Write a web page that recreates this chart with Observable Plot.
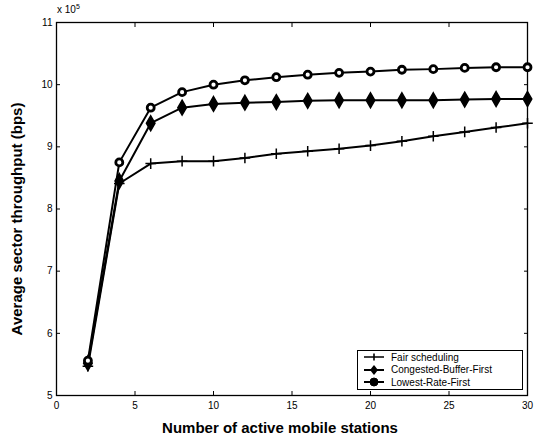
<!DOCTYPE html>
<html><head><meta charset="utf-8">
<script src="https://cdn.jsdelivr.net/npm/d3@7"></script>
<script src="https://cdn.jsdelivr.net/npm/@observablehq/plot@0.6"></script>
<style>
body{margin:0;background:#fff;font-family:"Liberation Sans",Arial,sans-serif}
#wrap{position:relative;width:534px;height:443px}
#exp{position:absolute;left:57px;top:3px;font-size:10px}
#exp sup{font-size:7px}
#legend{position:absolute;left:357px;top:350px;width:166px;height:40px;border:1px solid #000;background:#fff;font-size:10px;box-sizing:border-box}
#legend .row{display:flex;align-items:center;height:12.5px;margin-left:4px}
#legend svg{margin-right:5px}
</style></head><body>
<div id="wrap"><div id="exp">x 10<sup>5</sup></div></div>
<script>
const stations = [2, 4, 6, 8, 10, 12, 14, 16, 18, 20, 22, 24, 26, 28, 30];
const fair      = [5.47, 8.41, 8.73, 8.77, 8.77, 8.82, 8.89, 8.93, 8.97, 9.02, 9.09, 9.17, 9.24, 9.31, 9.38];
const congested = [5.52, 8.45, 9.38, 9.63, 9.69, 9.71, 9.72, 9.74, 9.75, 9.75, 9.75, 9.75, 9.76, 9.77, 9.77];
const lowest    = [5.56, 8.75, 9.63, 9.88, 10.0, 10.07, 10.12, 10.16, 10.19, 10.21, 10.24, 10.25, 10.27, 10.28, 10.28];
const seriesNames = ["Fair scheduling", "Congested-Buffer-First", "Lowest-Rate-First"];
const xTicks = [0, 5, 10, 15, 20, 25, 30];
const yTicks = [5, 6, 7, 8, 9, 10, 11];

const toRows = (vals, name) => stations.map((s, i) => ({x: s, y: vals[i], name}));
const dFair = toRows(fair, seriesNames[0]);
const dCong = toRows(congested, seriesNames[1]);
const dLow = toRows(lowest, seriesNames[2]);

const plot = Plot.plot({
  width: 534, height: 443,
  marginLeft: 56, marginRight: 7, marginTop: 22, marginBottom: 48,
  style: {fontFamily: "'Liberation Sans', Arial, sans-serif", fontSize: "10px", background: "#fff", color: "#000"},
  x: {domain: [0, 30]},
  y: {domain: [5, 11]},
  marks: [
    Plot.frame({stroke: "#000", strokeWidth: 1.3}),
    Plot.axisX({ticks: xTicks, tickSize: -4, tickPadding: 10, label: null, tickFormat: d3.format("d")}),
    Plot.axisX({anchor: "top", ticks: xTicks, tickSize: -4, label: null, tickFormat: () => ""}),
    Plot.axisY({ticks: yTicks, tickSize: -4, tickPadding: 8, label: null, tickFormat: d3.format("d")}),
    Plot.axisY({anchor: "right", ticks: yTicks, tickSize: -4, label: null, tickFormat: () => ""}),
    Plot.line(dFair, {x: "x", y: "y", stroke: "#000", strokeWidth: 2}),
    Plot.line(dCong, {x: "x", y: "y", stroke: "#000", strokeWidth: 2}),
    Plot.line(dLow, {x: "x", y: "y", stroke: "#000", strokeWidth: 2}),
    Plot.dot(dFair, {x: "x", y: "y", symbol: "plus", r: 3.5, stroke: "#000", strokeWidth: 1.5}),
    Plot.dot(dCong, {x: "x", y: "y", symbol: "diamond", r: 4.5, fill: "#000", stroke: "#000"}),
    Plot.dot(dLow, {x: "x", y: "y", symbol: "circle", r: 3.5, fill: "#fff", stroke: "#000", strokeWidth: 2.8}),
    Plot.text(["Average sector throughput (bps)"], {frameAnchor: "left", rotate: -90, dx: -39, dy: 10, textAnchor: "middle", lineAnchor: "middle", fontWeight: "bold", fontSize: 15}),
    Plot.text(["Number of active mobile stations"], {frameAnchor: "bottom", dy: 33, dx: -12, textAnchor: "middle", lineAnchor: "middle", fontWeight: "bold", fontSize: 15})
  ]
});
const wrap = document.getElementById("wrap");
wrap.prepend(plot);

// legend
const leg = document.createElement("div");
leg.id = "legend";
const syms = [
  `<path d="M2,5H22M12,1.5V8.5M8.5,5H15.5" stroke="#000" stroke-width="1.6" fill="none"/>`,
  `<path d="M2,5H22" stroke="#000" stroke-width="2"/><path d="M12,0L16,5L12,10L8,5Z" fill="#000"/>`,
  `<path d="M2,5H22" stroke="#000" stroke-width="2"/><circle cx="12" cy="5" r="4" fill="#000" stroke="#000"/>`
];
seriesNames.forEach((n, i) => {
  const r = document.createElement("div");
  r.className = "row";
  r.innerHTML = `<svg width="24" height="10">${syms[i]}</svg><span>${n}</span>`;
  leg.appendChild(r);
});
wrap.appendChild(leg);
</script>
</body></html>
